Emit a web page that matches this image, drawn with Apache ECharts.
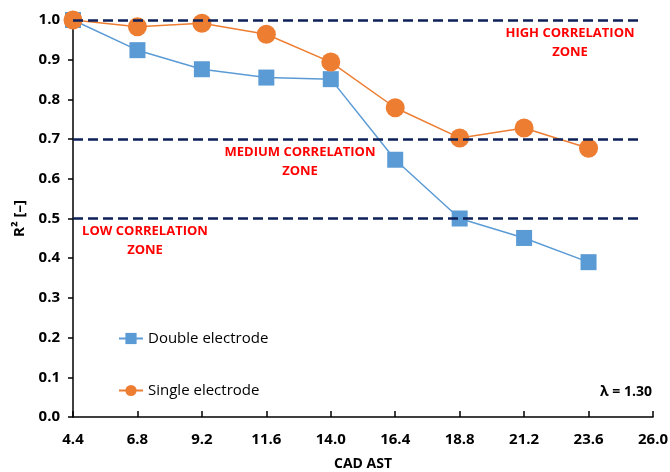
<!DOCTYPE html>
<html>
<head>
<meta charset="utf-8">
<script src="https://cdn.jsdelivr.net/npm/echarts@6/dist/echarts.min.js"></script>
<style>
	html, body { margin: 0; padding: 0; background: #fff; }
	#chart { width: 670px; height: 472px; }
</style>
</head>
<body>
<div id="chart"></div>
<script>
// CAD AST tick labels (last one is just the axis end)
var cadAst = ['4.4', '6.8', '9.2', '11.6', '14.0', '16.4', '18.8', '21.2', '23.6', '26.0'];
var doubleElectrode = [1.0, 0.924, 0.876, 0.855, 0.851, 0.648, 0.500, 0.451, 0.390];
var singleElectrode = [1.0, 0.983, 0.992, 0.964, 0.894, 0.779, 0.703, 0.728, 0.677];
var zoneLimits = [1.0, 0.7, 0.5];
var zoneSpan = [4.4, 25.5];

var font = '"Open Sans", "DejaVu Sans", sans-serif';

var chart = echarts.init(document.getElementById('chart'));

var zoneText = function(x, y, text) {
	return {
		type: 'text',
		x: x,
		y: y,
		style: {
			text: text,
			fill: '#ff0000',
			font: 'bold 13px ' + font,
			align: 'center',
			verticalAlign: 'top',
			lineHeight: 19
		}
	};
};

var zoneLines = zoneLimits.map(function(v) {
	return [{ coord: [zoneSpan[0], v] }, { coord: [zoneSpan[1], v] }];
});

var option = {
	animation: false,
	backgroundColor: '#fff',
	grid: {
		left: 73,
		right: 17,
		top: 20,
		bottom: 55,
		outerBoundsMode: 'none'
	},
	legend: {
		orient: 'vertical',
		left: 113,
		top: 326,
		itemGap: 37,
		itemWidth: 24,
		itemHeight: 14,
		textStyle: { fontFamily: font, fontSize: 15, fontWeight: 500, color: '#000' },
		data: ['Double electrode', 'Single electrode']
	},
	xAxis: [{
		type: 'category',
		boundaryGap: false,
		data: cadAst,
		name: 'CAD AST',
		nameLocation: 'middle',
		nameGap: 40,
		nameTextStyle: { fontFamily: font, fontSize: 14, fontWeight: 'bold', color: '#000' },
		axisLine: { lineStyle: { color: '#000', width: 1.5 } },
		axisTick: { inside: true, length: 6, lineStyle: { color: '#000', width: 1.5 } },
		axisLabel: { margin: 15, fontFamily: font, fontSize: 15, fontWeight: 'bold', color: '#000', interval: 0 },
		splitLine: { show: false }
	}, {
		// hidden numeric twin of the CAD axis, only for the zone lines
		type: 'value',
		min: 4.4,
		max: 26,
		show: false
	}],
	yAxis: {
		type: 'value',
		min: 0,
		max: 1,
		interval: 0.1,
		name: 'R² [–]',
		nameLocation: 'middle',
		nameRotate: 90,
		nameGap: 46,
		nameTextStyle: { fontFamily: font, fontSize: 15, fontWeight: 'bold', color: '#000' },
		axisLine: { show: true, lineStyle: { color: '#000', width: 1.5 } },
		axisTick: { show: true, length: 5, lineStyle: { color: '#000', width: 1.5 } },
		axisLabel: {
			margin: 13,
			fontFamily: font, fontSize: 15, fontWeight: 'bold', color: '#000',
			formatter: function(v) { return v.toFixed(1); }
		},
		splitLine: { show: false }
	},
	series: [{
		name: 'zones',
		type: 'line',
		xAxisIndex: 1,
		data: [],
		z: 4,
		markLine: {
			silent: true,
			symbol: 'none',
			label: { show: false },
			lineStyle: { color: '#0d2158', width: 2.5, type: [10, 5] },
			data: zoneLines
		}
	}, {
		name: 'Double electrode',
		type: 'line',
		data: doubleElectrode,
		symbol: 'rect',
		symbolSize: 16,
		itemStyle: { color: '#5b9bd5' },
		lineStyle: { color: '#5b9bd5', width: 1.5 },
		z: 3
	}, {
		name: 'Single electrode',
		type: 'line',
		data: singleElectrode,
		symbol: 'circle',
		symbolSize: 19,
		itemStyle: { color: '#ed7d31' },
		lineStyle: { color: '#ed7d31', width: 1.5 },
		z: 3
	}],
	graphic: [
		zoneText(570, 24, 'HIGH CORRELATION\nZONE'),
		zoneText(300, 143, 'MEDIUM CORRELATION\nZONE'),
		zoneText(145, 222, 'LOW CORRELATION\nZONE'),
		{
			type: 'text',
			x: 652,
			y: 392,
			style: { text: 'λ = 1.30', fill: '#000', font: 'bold 14px ' + font, align: 'right', verticalAlign: 'middle' }
		}
	]
};

chart.setOption(option);
</script>
</body>
</html>
